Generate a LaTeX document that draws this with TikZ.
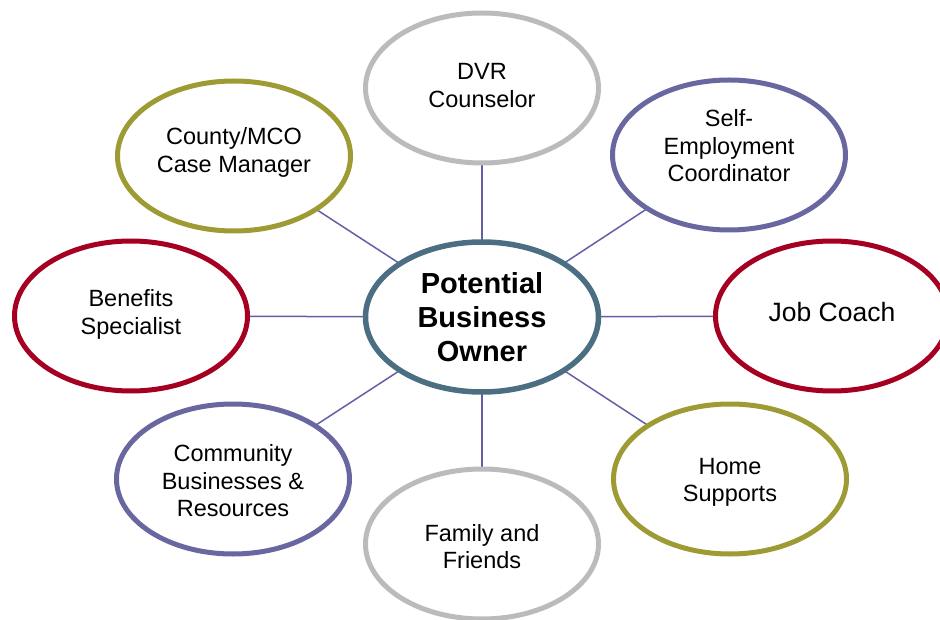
\documentclass[tikz,border=0pt]{standalone}
\usepackage{fontspec}
\setmainfont{Liberation Sans}
\usetikzlibrary{shapes.geometric,backgrounds}
\definecolor{cgray}{RGB}{187,187,187}
\definecolor{colive}{RGB}{158,155,53}
\definecolor{cpurple}{RGB}{104,103,160}
\definecolor{ccrimson}{RGB}{165,0,33}
\definecolor{cteal}{RGB}{75,110,130}
\definecolor{clink}{RGB}{100,95,165}
\tikzset{
  bubble/.style={ellipse, draw, line width=5pt, fill=white, minimum width=233pt,
    minimum height=150pt, inner sep=0pt},
  txt/.style={align=center, inner sep=0pt, font=\fontsize{23.5pt}{27.5pt}\selectfont},
  hub/.style={bubble, line width=5.5pt, draw=cteal, align=center,
    font=\fontsize{29pt}{34pt}\selectfont\bfseries},
  link/.style={draw=clink, line width=1.5pt}
}
\begin{document}
\begin{tikzpicture}[x=1pt,y=-1pt]
\useasboundingbox (0,0) rectangle (940,620);
\node[hub] (hub) at (482,317) {Potential\\Business\\Owner};
\node[bubble, draw=cgray, label={[txt,yshift=2.5pt]center:{DVR\\Counselor}}] (dvr) at (482,88) {};
\node[bubble, draw=colive, label={[txt,yshift=3.5pt]center:{County/MCO\\Case Manager}}] (county) at (234,156) {};
\node[bubble, draw=cpurple, label={[txt,yshift=9pt]center:{Self-\\Employment\\Coordinator}}] (self) at (729,155) {};
\node[bubble, draw=ccrimson, label={[txt,yshift=1.5pt]center:{Benefits\\Specialist}}] (benefits) at (131,316) {};
\node[bubble, draw=ccrimson, label={[txt,yshift=4pt,font=\fontsize{26.5pt}{31pt}\selectfont]center:{Job Coach}}] (job) at (832,316) {};
\node[bubble, draw=cpurple, label={[txt,yshift=-2pt]center:{Community\\Businesses \&\\Resources}}] (community) at (233,479) {};
\node[bubble, draw=colive, label={[txt,yshift=-3.5pt]center:{Home\\Supports}}] (home) at (730,479) {};
\node[bubble, draw=cgray, label={[txt,yshift=-2.5pt]center:{Family and\\Friends}}] (family) at (482,544) {};
\begin{scope}[on background layer]
\foreach \n in {dvr,county,self,benefits,job,community,home,family}
  \draw[link] (hub.center) -- (\n.center);
\end{scope}
\end{tikzpicture}
\end{document}
